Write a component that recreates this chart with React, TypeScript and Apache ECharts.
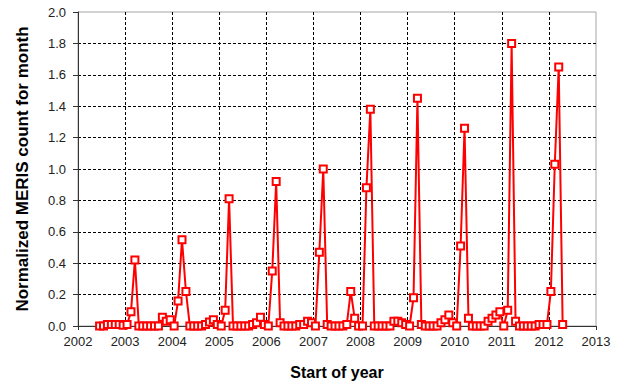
import React, { useEffect, useRef } from "react";
import * as echarts from "echarts";

// Monthly normalized MERIS counts (index 0 = January); null = no data
const v2002 = [null, null, null, null, null, 0.0, 0.0, 0.01, 0.01, 0.01, 0.01, 0.005];
const v2003 = [0.01, 0.09, 0.42, 0.0, 0.0, 0.0, 0.0, 0.0, 0.0, 0.055, 0.03, 0.04];
const v2004 = [0.0, 0.16, 0.55, 0.22, 0.0, 0.0, 0.0, 0.0, 0.01, 0.025, 0.04, 0.01];
const v2005 = [0.0, 0.1, 0.81, 0.0, 0.0, 0.0, 0.0, 0.0, 0.01, 0.02, 0.055, 0.01];
const v2006 = [0.0, 0.35, 0.92, 0.02, 0.0, 0.0, 0.0, 0.0, 0.01, 0.01, 0.03, 0.02];
const v2007 = [0.0, 0.47, 1.0, 0.01, 0.0, 0.0, 0.0, 0.0, 0.01, 0.22, 0.05, 0.0];
const v2008 = [0.0, 0.88, 1.38, 0.0, 0.0, 0.0, 0.0, 0.0, 0.03, 0.03, 0.02, 0.01];
const v2009 = [0.0, 0.18, 1.45, 0.01, 0.0, 0.0, 0.0, 0.0, 0.02, 0.04, 0.07, 0.02];
const v2010 = [0.0, 0.51, 1.26, 0.05, 0.0, 0.0, 0.0, 0.0, 0.03, 0.05, 0.07, 0.09];
const v2011 = [0.0, 0.1, 1.8, 0.03, 0.0, 0.0, 0.0, 0.0, 0.0, 0.01, 0.01, 0.01];
const v2012 = [0.22, 1.03, 1.65, 0.01, null, null, null, null, null, null, null, null];

const years = [2002, 2003, 2004, 2005, 2006, 2007, 2008, 2009, 2010, 2011, 2012];
const yearly = [v2002, v2003, v2004, v2005, v2006, v2007, v2008, v2009, v2010, v2011, v2012];

const xMin = 2002;
const xMax = 2013;
const yMin = 0;
const yMax = 2.0;

const FONT = "'Liberation Sans', Arial, sans-serif";

export default function App() {
  const ref = useRef<HTMLDivElement>(null);

  useEffect(() => {
    if (!ref.current) return;
    const chart = echarts.init(ref.current, null, { renderer: "svg" });

    const points: [number, number][] = [];
    years.forEach((y, yi) => {
      yearly[yi].forEach((v, m) => {
        if (v !== null && v !== undefined) points.push([y + (m + 0.5) / 12, v as number]);
      });
    });

    chart.setOption({
      animation: false,
      backgroundColor: "#ffffff",
      grid: {
        left: 78,
        right: 28,
        top: 12,
        bottom: 59,
        show: true,
        borderColor: "#a6a6a6",
        borderWidth: 1,
        backgroundColor: "transparent",
      },
      xAxis: {
        type: "value",
        min: xMin,
        max: xMax,
        interval: 1,
        name: "Start of year",
        nameLocation: "middle",
        nameGap: 38,
        nameTextStyle: { fontFamily: FONT, fontSize: 16, fontWeight: "bold", color: "#000" },
        axisLine: { show: true, onZero: false, lineStyle: { color: "#333", width: 1 } },
        axisTick: { show: true, inside: false, length: 4, lineStyle: { color: "#333" } },
        axisLabel: {
          fontFamily: FONT,
          fontSize: 13,
          color: "#222",
          margin: 9,
          formatter: (v: number) => String(Math.round(v)),
        },
        splitLine: {
          show: true,
          showMinLine: false,
          showMaxLine: false,
          lineStyle: { color: "#000", type: [3, 2], width: 1 },
        },
      },
      yAxis: {
        type: "value",
        min: yMin,
        max: yMax,
        interval: 0.2,
        name: "Normalized MERIS count for month",
        nameLocation: "middle",
        nameGap: 47,
        nameTextStyle: { fontFamily: FONT, fontSize: 17, fontWeight: "bold", color: "#000" },
        axisLine: { show: true, lineStyle: { color: "#333", width: 1 } },
        axisTick: { show: true, inside: false, length: 5, lineStyle: { color: "#333" } },
        axisLabel: {
          fontFamily: FONT,
          fontSize: 13,
          color: "#222",
          margin: 12,
          formatter: (v: number) => v.toFixed(1),
        },
        splitLine: {
          show: true,
          showMinLine: false,
          showMaxLine: false,
          lineStyle: { color: "#000", type: [3, 2], width: 1 },
        },
      },
      series: [
        {
          type: "line",
          data: points,
          symbol: "emptyRect",
          symbolSize: 7,
          showAllSymbol: true,
          lineStyle: { color: "#ff0000", width: 2 },
          itemStyle: { color: "#ff0000", borderColor: "#ff0000", borderWidth: 1.2 },
          emphasis: { disabled: true },
          z: 3,
        },
      ],
    });

    return () => chart.dispose();
  }, []);

  return (
    <div
      ref={ref}
      style={{ position: "fixed", left: 0, top: 0, width: 624, height: 385, background: "#fff" }}
    />
  );
}
